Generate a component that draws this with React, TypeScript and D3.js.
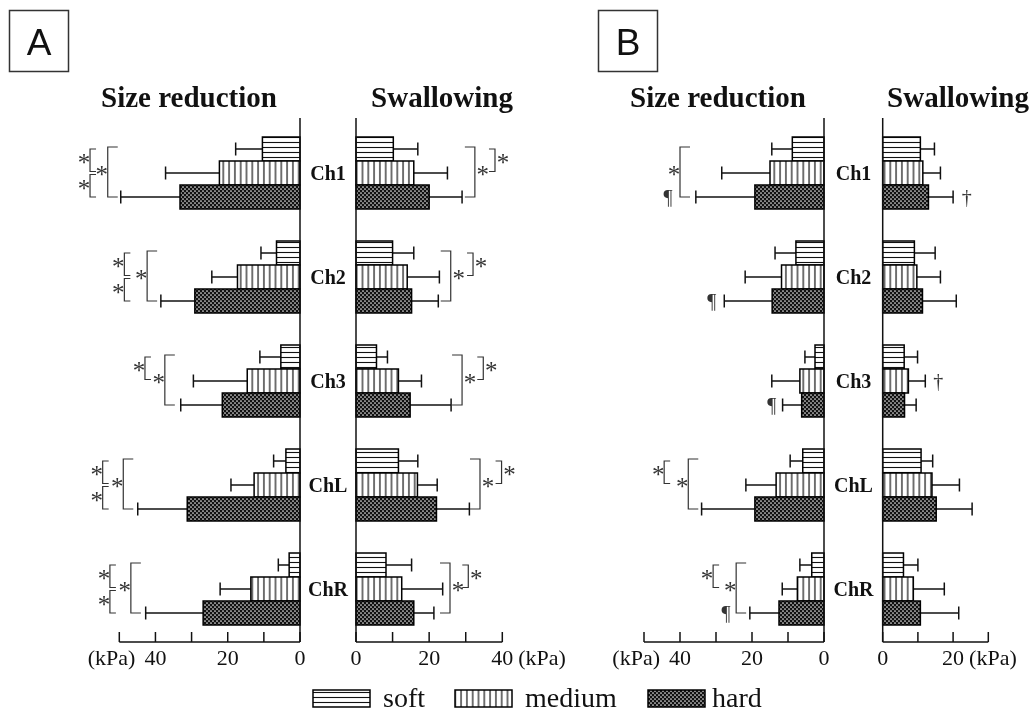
import React from "react";
import * as d3 from "d3";

const categories = ["Ch1", "Ch2", "Ch3", "ChL", "ChR"];
const series = ["soft", "medium", "hard"];

// Panel A – size reduction (kPa)
const aSizeSoft = [10.4, 6.5, 5.3, 3.9, 3.0];
const aSizeSoftSD = [7.4, 4.3, 5.8, 3.4, 3.0];
const aSizeMedium = [22.3, 17.3, 14.6, 12.7, 13.6];
const aSizeMediumSD = [14.9, 7.1, 14.9, 6.4, 8.5];
const aSizeHard = [33.2, 29.1, 21.5, 31.2, 26.8];
const aSizeHardSD = [16.4, 9.4, 11.5, 13.7, 15.9];

// Panel A – swallowing
const aSwalSoft = [10.2, 10.0, 5.6, 11.6, 8.2];
const aSwalSoftSD = [6.7, 5.8, 3.0, 5.3, 7.0];
const aSwalMedium = [15.8, 14.0, 11.6, 16.8, 12.5];
const aSwalMediumSD = [9.2, 8.8, 6.3, 5.4, 11.2];
const aSwalHard = [20.0, 15.2, 14.8, 22.0, 15.8];
const aSwalHardSD = [9.0, 7.3, 11.2, 9.0, 5.5];

// Panel B – size reduction
const bSizeSoft = [8.8, 7.8, 2.5, 5.9, 3.4];
const bSizeSoftSD = [5.7, 5.8, 2.8, 3.5, 3.3];
const bSizeMedium = [15.0, 11.8, 6.7, 13.3, 7.4];
const bSizeMediumSD = [13.4, 10.1, 7.8, 8.4, 4.2];
const bSizeHard = [19.2, 14.4, 6.2, 19.2, 12.5];
const bSizeHardSD = [16.4, 13.3, 5.3, 14.8, 8.1];

// Panel B – swallowing
const bSwalSoft = [10.7, 9.0, 6.1, 10.9, 5.9];
const bSwalSoftSD = [4.0, 5.9, 3.8, 3.3, 4.1];
const bSwalMedium = [11.4, 9.7, 7.3, 14.0, 8.7];
const bSwalMediumSD = [5.0, 6.7, 4.8, 7.8, 8.8];
const bSwalHard = [13.0, 11.3, 6.2, 15.2, 10.7];
const bSwalHardSD = [7.0, 9.6, 3.3, 10.2, 10.9];

// axis ticks / labels
const ticks50 = [0, 10, 20, 30, 40, 50];
const ticks40 = [0, 10, 20, 30, 40];
const ticks30 = [0, 10, 20, 30];
const labels3 = [0, 20, 40];
const labels2 = [0, 20];

// significance brackets: series index from/to, position in kPa
type Br = { cat: string; from: number; to: number; at: number; big: boolean; sym: string };
const aSizeBrackets: Br[] = [
  { cat: "Ch1", from: 0, to: 1, at: 58.1, big: false, sym: "*" },
  { cat: "Ch1", from: 1, to: 2, at: 58.1, big: false, sym: "*" },
  { cat: "Ch1", from: 0, to: 2, at: 53.2, big: true, sym: "*" },
  { cat: "Ch2", from: 0, to: 1, at: 48.6, big: false, sym: "*" },
  { cat: "Ch2", from: 1, to: 2, at: 48.6, big: false, sym: "*" },
  { cat: "Ch2", from: 0, to: 2, at: 42.3, big: true, sym: "*" },
  { cat: "Ch3", from: 0, to: 1, at: 42.9, big: false, sym: "*" },
  { cat: "Ch3", from: 0, to: 2, at: 37.4, big: true, sym: "*" },
  { cat: "ChL", from: 0, to: 1, at: 54.6, big: false, sym: "*" },
  { cat: "ChL", from: 1, to: 2, at: 54.6, big: false, sym: "*" },
  { cat: "ChL", from: 0, to: 2, at: 48.9, big: true, sym: "*" },
  { cat: "ChR", from: 0, to: 1, at: 52.6, big: false, sym: "*" },
  { cat: "ChR", from: 1, to: 2, at: 52.6, big: false, sym: "*" },
  { cat: "ChR", from: 0, to: 2, at: 46.8, big: true, sym: "*" },
];
const aSwalBrackets: Br[] = [
  { cat: "Ch1", from: 0, to: 1, at: 38.0, big: false, sym: "*" },
  { cat: "Ch1", from: 0, to: 2, at: 32.5, big: true, sym: "*" },
  { cat: "Ch2", from: 0, to: 1, at: 32.0, big: false, sym: "*" },
  { cat: "Ch2", from: 0, to: 2, at: 25.9, big: true, sym: "*" },
  { cat: "Ch3", from: 0, to: 1, at: 34.8, big: false, sym: "*" },
  { cat: "Ch3", from: 0, to: 2, at: 29.0, big: true, sym: "*" },
  { cat: "ChL", from: 0, to: 1, at: 39.8, big: false, sym: "*" },
  { cat: "ChL", from: 0, to: 2, at: 33.9, big: true, sym: "*" },
  { cat: "ChR", from: 0, to: 1, at: 30.7, big: false, sym: "*" },
  { cat: "ChR", from: 0, to: 2, at: 25.7, big: true, sym: "*" },
];
const bSizeBrackets: Br[] = [
  { cat: "Ch1", from: 0, to: 2, at: 40.0, big: true, sym: "*" },
  { cat: "ChL", from: 0, to: 1, at: 44.4, big: false, sym: "*" },
  { cat: "ChL", from: 0, to: 2, at: 37.7, big: true, sym: "*" },
  { cat: "ChR", from: 0, to: 1, at: 30.8, big: false, sym: "*" },
  { cat: "ChR", from: 0, to: 2, at: 24.4, big: true, sym: "*" },
];
const bSwalBrackets: Br[] = [];

// single marks next to a bar
type Mk = { cat: string; bar: number; at: number; sym: string };
const aSizeMarks: Mk[] = [];
const aSwalMarks: Mk[] = [];
const bSizeMarks: Mk[] = [
  { cat: "Ch1", bar: 2, at: 43.3, sym: "¶" },
  { cat: "Ch2", bar: 2, at: 31.2, sym: "¶" },
  { cat: "Ch3", bar: 2, at: 14.5, sym: "¶" },
  { cat: "ChR", bar: 2, at: 27.2, sym: "¶" },
];
const bSwalMarks: Mk[] = [
  { cat: "Ch1", bar: 2, at: 23.9, sym: "†" },
  { cat: "Ch3", bar: 1, at: 15.8, sym: "†" },
];

const SERIF = "Liberation Serif, Times New Roman, DejaVu Serif, serif";
const SANS = "Liberation Sans, Arial, sans-serif";
const fills = ["url(#pSoft)", "url(#pMed)", "url(#pHard)"];

const AXIS_Y = 642;
const LINE_TOP = 118;

const yBand = d3.scaleBand<string>().domain(categories).range([137, 625]).paddingInner(0.3077).paddingOuter(0);
const ySub = d3.scaleBand<string>().domain(series).range([0, yBand.bandwidth()]);
const barMid = (cat: string, i: number) => (yBand(cat) as number) + (ySub(series[i]) as number) + ySub.bandwidth() / 2;

const serifText = { fontFamily: SERIF };

type PanelProps = {
  values: number[][];
  sds: number[][];
  x: d3.ScaleLinear<number, number>;
  ticks: number[];
  labels: number[];
  kpaSide: "left" | "right";
  kpaAt: number;
  brackets: Br[];
  marks: Mk[];
};

function Panel({ values, sds, x, ticks, labels, kpaSide, kpaAt, brackets, marks }: PanelProps) {
  const x0 = x(0);
  const maxT = ticks[ticks.length - 1];
  const dir = Math.sign(x0 - x(1)); // +1 when bars grow to the left
  return (
    <g>
      {categories.map((cat, ci) =>
        series.map((s, si) => {
          const v = values[si][ci];
          const sd = sds[si][ci];
          const y = (yBand(cat) as number) + (ySub(s) as number);
          const h = ySub.bandwidth();
          const m = y + h / 2;
          const xe = x(v + sd);
          return (
            <g key={cat + s}>
              <line x1={x(v)} x2={xe} y1={m} y2={m} stroke="#111" strokeWidth={1.5} />
              <line x1={xe} x2={xe} y1={m - 6.5} y2={m + 6.5} stroke="#111" strokeWidth={1.5} />
              <rect
                x={Math.min(x0, x(v))}
                y={y}
                width={Math.abs(x(v) - x0)}
                height={h}
                fill={fills[si]}
                stroke="#000"
                strokeWidth={1.5}
              />
            </g>
          );
        })
      )}
      <line x1={x0} x2={x0} y1={LINE_TOP} y2={AXIS_Y} stroke="#111" strokeWidth={1.5} />
      <line x1={x0} x2={x(maxT)} y1={AXIS_Y} y2={AXIS_Y} stroke="#111" strokeWidth={1.5} />
      {ticks.map((t) => (
        <line key={t} x1={x(t)} x2={x(t)} y1={AXIS_Y - 10} y2={AXIS_Y} stroke="#111" strokeWidth={1.5} />
      ))}
      {labels.map((t) => (
        <text key={t} x={x(t)} y={665} textAnchor="middle" style={serifText} fontSize={22} fill="#111">
          {t}
        </text>
      ))}
      <text
        x={kpaSide === "left" ? x(kpaAt) - 20 : x(kpaAt) + 16}
        y={665}
        textAnchor={kpaSide === "left" ? "end" : "start"}
        style={serifText}
        fontSize={22}
        fill="#111"
      >
        (kPa)
      </text>
      {brackets.map((b, i) => {
        const bx = x(b.at);
        let y1 = barMid(b.cat, b.from);
        let y2 = barMid(b.cat, b.to);
        if (!b.big) {
          if (b.from === 1) y1 += 1.5;
          if (b.to === 1) y2 -= 1.5;
        } else {
          y1 -= 2;
        }
        const len = b.big ? 10 : 6;
        const xt = bx + dir * len;
        const ym = (y1 + y2) / 2;
        const ax = dir > 0 ? bx - 6 : bx + 8;
        return (
          <g key={i}>
            <path d={`M${xt},${y1}H${bx}V${y2}H${xt}`} fill="none" stroke="#333" strokeWidth={1.2} />
            <text x={ax} y={ym + 11} textAnchor="middle" style={serifText} fontSize={25} fill="#333">
              {b.sym}
            </text>
          </g>
        );
      })}
      {marks.map((mk, i) => (
        <text
          key={i}
          x={x(mk.at)}
          y={barMid(mk.cat, mk.bar) + 7}
          textAnchor="middle"
          style={serifText}
          fontSize={20}
          fill="#333"
        >
          {mk.sym}
        </text>
      ))}
    </g>
  );
}

function CatLabels({ cx }: { cx: number }) {
  return (
    <g>
      {categories.map((c) => (
        <text
          key={c}
          x={cx}
          y={(yBand(c) as number) + yBand.bandwidth() / 2 + 7}
          textAnchor="middle"
          style={serifText}
          fontWeight="bold"
          fontSize={20}
          fill="#111"
        >
          {c}
        </text>
      ))}
    </g>
  );
}

export default function App() {
  const xASize = d3.scaleLinear().domain([0, 50]).range([300, 119.3]);
  const xASwal = d3.scaleLinear().domain([0, 40]).range([356, 502.3]);
  const xBSize = d3.scaleLinear().domain([0, 50]).range([824, 644]);
  const xBSwal = d3.scaleLinear().domain([0, 30]).range([882.7, 988.3]);

  const titleProps = { style: serifText, fontWeight: "bold", fontSize: 29, fill: "#111" };

  return (
    <svg
      width={1036}
      height={716}
      style={{ position: "absolute", left: 0, top: 0, background: "#fff", opacity: 0.999, willChange: "transform" }}
    >
      <defs>
        <pattern id="pSoft" patternUnits="userSpaceOnUse" width={8} height={5}>
          <rect width={8} height={5} fill="#fff" />
          <line x1={0} x2={8} y1={2.5} y2={2.5} stroke="#111" strokeWidth={1.1} />
        </pattern>
        <pattern id="pMed" patternUnits="userSpaceOnUse" width={5.8} height={8}>
          <rect width={5.8} height={8} fill="#fff" />
          <line x1={2.9} x2={2.9} y1={0} y2={8} stroke="#111" strokeWidth={1.2} />
        </pattern>
        <pattern id="pHard" patternUnits="userSpaceOnUse" width={4} height={4}>
          <rect width={4} height={4} fill="#111" />
          <circle cx={1} cy={1} r={0.85} fill="#e8e8e8" />
          <circle cx={3} cy={3} r={0.85} fill="#e8e8e8" />
        </pattern>
      </defs>

      {/* panel letters */}
      <rect x={9.5} y={10.5} width={59} height={61} fill="none" stroke="#333" strokeWidth={1.5} />
      <text x={39} y={55} textAnchor="middle" style={{ fontFamily: SANS }} fontSize={37} fill="#111">A</text>
      <rect x={598.5} y={10.5} width={59} height={61} fill="none" stroke="#333" strokeWidth={1.5} />
      <text x={628} y={55} textAnchor="middle" style={{ fontFamily: SANS }} fontSize={37} fill="#111">B</text>

      {/* titles */}
      <text x={189} y={107} textAnchor="middle" {...titleProps}>Size reduction</text>
      <text x={442} y={107} textAnchor="middle" {...titleProps}>Swallowing</text>
      <text x={718} y={107} textAnchor="middle" {...titleProps}>Size reduction</text>
      <text x={958} y={107} textAnchor="middle" {...titleProps}>Swallowing</text>

      <Panel
        values={[aSizeSoft, aSizeMedium, aSizeHard]}
        sds={[aSizeSoftSD, aSizeMediumSD, aSizeHardSD]}
        x={xASize}
        ticks={ticks50}
        labels={labels3}
        kpaSide="left"
        kpaAt={40}
        brackets={aSizeBrackets}
        marks={aSizeMarks}
      />
      <Panel
        values={[aSwalSoft, aSwalMedium, aSwalHard]}
        sds={[aSwalSoftSD, aSwalMediumSD, aSwalHardSD]}
        x={xASwal}
        ticks={ticks40}
        labels={labels3}
        kpaSide="right"
        kpaAt={40}
        brackets={aSwalBrackets}
        marks={aSwalMarks}
      />
      <CatLabels cx={328} />

      <Panel
        values={[bSizeSoft, bSizeMedium, bSizeHard]}
        sds={[bSizeSoftSD, bSizeMediumSD, bSizeHardSD]}
        x={xBSize}
        ticks={ticks50}
        labels={labels3}
        kpaSide="left"
        kpaAt={40}
        brackets={bSizeBrackets}
        marks={bSizeMarks}
      />
      <Panel
        values={[bSwalSoft, bSwalMedium, bSwalHard]}
        sds={[bSwalSoftSD, bSwalMediumSD, bSwalHardSD]}
        x={xBSwal}
        ticks={ticks30}
        labels={labels2}
        kpaSide="right"
        kpaAt={20}
        brackets={bSwalBrackets}
        marks={bSwalMarks}
      />
      <CatLabels cx={853.5} />

      {/* legend */}
      {series.map((s, i) => {
        const lx = [313, 455, 648][i];
        const tx = [383, 525, 712][i];
        return (
          <g key={s}>
            <rect x={lx} y={690} width={57} height={17} fill={fills[i]} stroke="#000" strokeWidth={1.5} />
            <text x={tx} y={707} style={serifText} fontSize={28} fill="#111">{s}</text>
          </g>
        );
      })}
    </svg>
  );
}
